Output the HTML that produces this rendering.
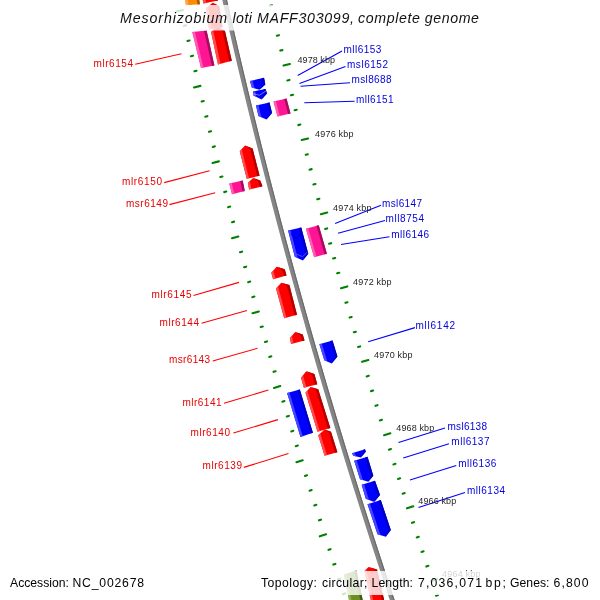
<!DOCTYPE html><html><head><meta charset="utf-8"><style>html,body{margin:0;padding:0;background:#fff;width:600px;height:600px;overflow:hidden}svg{display:block;will-change:transform}text{font-family:"Liberation Sans",sans-serif}</style></head><body>
<svg width="600" height="600" viewBox="0 0 600 600">
<rect width="600" height="600" fill="#fff"/>
<line x1="176.52" y1="11.53" x2="182.96" y2="10.08" stroke="#008000" stroke-width="2.1" stroke-linecap="round"/>
<line x1="183.94" y1="25.82" x2="186.08" y2="25.33" stroke="#008000" stroke-width="2.1" stroke-linecap="round"/>
<line x1="187.39" y1="41.00" x2="189.53" y2="40.50" stroke="#008000" stroke-width="2.1" stroke-linecap="round"/>
<line x1="190.88" y1="56.16" x2="193.03" y2="55.66" stroke="#008000" stroke-width="2.1" stroke-linecap="round"/>
<line x1="194.42" y1="71.32" x2="196.56" y2="70.81" stroke="#008000" stroke-width="2.1" stroke-linecap="round"/>
<line x1="194.01" y1="87.41" x2="200.43" y2="85.88" stroke="#008000" stroke-width="2.1" stroke-linecap="round"/>
<line x1="201.61" y1="101.59" x2="203.75" y2="101.07" stroke="#008000" stroke-width="2.1" stroke-linecap="round"/>
<line x1="205.27" y1="116.71" x2="207.41" y2="116.18" stroke="#008000" stroke-width="2.1" stroke-linecap="round"/>
<line x1="208.97" y1="131.81" x2="211.10" y2="131.28" stroke="#008000" stroke-width="2.1" stroke-linecap="round"/>
<line x1="212.70" y1="146.91" x2="214.84" y2="146.37" stroke="#008000" stroke-width="2.1" stroke-linecap="round"/>
<line x1="212.51" y1="162.99" x2="218.91" y2="161.37" stroke="#008000" stroke-width="2.1" stroke-linecap="round"/>
<line x1="220.30" y1="177.06" x2="222.43" y2="176.51" stroke="#008000" stroke-width="2.1" stroke-linecap="round"/>
<line x1="224.16" y1="192.11" x2="226.29" y2="191.56" stroke="#008000" stroke-width="2.1" stroke-linecap="round"/>
<line x1="228.06" y1="207.16" x2="230.19" y2="206.60" stroke="#008000" stroke-width="2.1" stroke-linecap="round"/>
<line x1="232.00" y1="222.19" x2="234.12" y2="221.63" stroke="#008000" stroke-width="2.1" stroke-linecap="round"/>
<line x1="232.01" y1="238.27" x2="238.39" y2="236.56" stroke="#008000" stroke-width="2.1" stroke-linecap="round"/>
<line x1="239.99" y1="252.22" x2="242.11" y2="251.64" stroke="#008000" stroke-width="2.1" stroke-linecap="round"/>
<line x1="244.05" y1="267.22" x2="246.17" y2="266.64" stroke="#008000" stroke-width="2.1" stroke-linecap="round"/>
<line x1="248.14" y1="282.20" x2="250.26" y2="281.61" stroke="#008000" stroke-width="2.1" stroke-linecap="round"/>
<line x1="252.28" y1="297.17" x2="254.40" y2="296.58" stroke="#008000" stroke-width="2.1" stroke-linecap="round"/>
<line x1="252.51" y1="313.25" x2="258.86" y2="311.45" stroke="#008000" stroke-width="2.1" stroke-linecap="round"/>
<line x1="260.67" y1="327.08" x2="262.78" y2="326.48" stroke="#008000" stroke-width="2.1" stroke-linecap="round"/>
<line x1="264.92" y1="342.02" x2="267.03" y2="341.41" stroke="#008000" stroke-width="2.1" stroke-linecap="round"/>
<line x1="269.21" y1="356.94" x2="271.33" y2="356.33" stroke="#008000" stroke-width="2.1" stroke-linecap="round"/>
<line x1="273.54" y1="371.85" x2="275.65" y2="371.23" stroke="#008000" stroke-width="2.1" stroke-linecap="round"/>
<line x1="273.98" y1="387.92" x2="280.31" y2="386.04" stroke="#008000" stroke-width="2.1" stroke-linecap="round"/>
<line x1="282.32" y1="401.64" x2="284.43" y2="401.01" stroke="#008000" stroke-width="2.1" stroke-linecap="round"/>
<line x1="286.77" y1="416.52" x2="288.87" y2="415.88" stroke="#008000" stroke-width="2.1" stroke-linecap="round"/>
<line x1="291.25" y1="431.38" x2="293.35" y2="430.74" stroke="#008000" stroke-width="2.1" stroke-linecap="round"/>
<line x1="295.77" y1="446.23" x2="297.88" y2="445.59" stroke="#008000" stroke-width="2.1" stroke-linecap="round"/>
<line x1="296.42" y1="462.29" x2="302.72" y2="460.33" stroke="#008000" stroke-width="2.1" stroke-linecap="round"/>
<line x1="304.93" y1="475.90" x2="307.03" y2="475.24" stroke="#008000" stroke-width="2.1" stroke-linecap="round"/>
<line x1="309.57" y1="490.71" x2="311.67" y2="490.05" stroke="#008000" stroke-width="2.1" stroke-linecap="round"/>
<line x1="314.25" y1="505.52" x2="316.34" y2="504.85" stroke="#008000" stroke-width="2.1" stroke-linecap="round"/>
<line x1="318.96" y1="520.31" x2="321.05" y2="519.64" stroke="#008000" stroke-width="2.1" stroke-linecap="round"/>
<line x1="319.81" y1="536.35" x2="326.09" y2="534.32" stroke="#008000" stroke-width="2.1" stroke-linecap="round"/>
<line x1="328.50" y1="549.85" x2="330.59" y2="549.17" stroke="#008000" stroke-width="2.1" stroke-linecap="round"/>
<line x1="333.32" y1="564.61" x2="335.41" y2="563.92" stroke="#008000" stroke-width="2.1" stroke-linecap="round"/>
<line x1="338.18" y1="579.35" x2="340.27" y2="578.66" stroke="#008000" stroke-width="2.1" stroke-linecap="round"/>
<line x1="343.08" y1="594.08" x2="345.17" y2="593.38" stroke="#008000" stroke-width="2.1" stroke-linecap="round"/>
<line x1="344.14" y1="610.11" x2="350.39" y2="608.00" stroke="#008000" stroke-width="2.1" stroke-linecap="round"/>
<line x1="269.94" y1="5.78" x2="272.09" y2="5.29" stroke="#008000" stroke-width="2.1" stroke-linecap="round"/>
<line x1="273.34" y1="20.73" x2="275.49" y2="20.24" stroke="#008000" stroke-width="2.1" stroke-linecap="round"/>
<line x1="276.78" y1="35.67" x2="278.93" y2="35.18" stroke="#008000" stroke-width="2.1" stroke-linecap="round"/>
<line x1="280.26" y1="50.60" x2="282.41" y2="50.11" stroke="#008000" stroke-width="2.1" stroke-linecap="round"/>
<line x1="283.49" y1="65.59" x2="289.92" y2="64.08" stroke="#008000" stroke-width="2.1" stroke-linecap="round"/>
<line x1="287.34" y1="80.44" x2="289.48" y2="79.93" stroke="#008000" stroke-width="2.1" stroke-linecap="round"/>
<line x1="290.94" y1="95.34" x2="293.08" y2="94.82" stroke="#008000" stroke-width="2.1" stroke-linecap="round"/>
<line x1="294.58" y1="110.23" x2="296.72" y2="109.71" stroke="#008000" stroke-width="2.1" stroke-linecap="round"/>
<line x1="298.26" y1="125.11" x2="300.39" y2="124.58" stroke="#008000" stroke-width="2.1" stroke-linecap="round"/>
<line x1="301.68" y1="140.05" x2="308.09" y2="138.45" stroke="#008000" stroke-width="2.1" stroke-linecap="round"/>
<line x1="305.73" y1="154.83" x2="307.86" y2="154.30" stroke="#008000" stroke-width="2.1" stroke-linecap="round"/>
<line x1="309.52" y1="169.68" x2="311.66" y2="169.14" stroke="#008000" stroke-width="2.1" stroke-linecap="round"/>
<line x1="313.36" y1="184.52" x2="315.49" y2="183.97" stroke="#008000" stroke-width="2.1" stroke-linecap="round"/>
<line x1="317.23" y1="199.34" x2="319.36" y2="198.79" stroke="#008000" stroke-width="2.1" stroke-linecap="round"/>
<line x1="320.85" y1="214.24" x2="327.23" y2="212.55" stroke="#008000" stroke-width="2.1" stroke-linecap="round"/>
<line x1="325.09" y1="228.96" x2="327.21" y2="228.40" stroke="#008000" stroke-width="2.1" stroke-linecap="round"/>
<line x1="329.07" y1="243.76" x2="331.20" y2="243.19" stroke="#008000" stroke-width="2.1" stroke-linecap="round"/>
<line x1="333.10" y1="258.54" x2="335.22" y2="257.97" stroke="#008000" stroke-width="2.1" stroke-linecap="round"/>
<line x1="337.16" y1="273.32" x2="339.28" y2="272.73" stroke="#008000" stroke-width="2.1" stroke-linecap="round"/>
<line x1="340.97" y1="288.16" x2="347.33" y2="286.39" stroke="#008000" stroke-width="2.1" stroke-linecap="round"/>
<line x1="345.40" y1="302.83" x2="347.52" y2="302.24" stroke="#008000" stroke-width="2.1" stroke-linecap="round"/>
<line x1="349.58" y1="317.57" x2="351.69" y2="316.97" stroke="#008000" stroke-width="2.1" stroke-linecap="round"/>
<line x1="353.79" y1="332.30" x2="355.91" y2="331.70" stroke="#008000" stroke-width="2.1" stroke-linecap="round"/>
<line x1="358.05" y1="347.02" x2="360.16" y2="346.41" stroke="#008000" stroke-width="2.1" stroke-linecap="round"/>
<line x1="362.05" y1="361.82" x2="368.38" y2="359.97" stroke="#008000" stroke-width="2.1" stroke-linecap="round"/>
<line x1="366.66" y1="376.43" x2="368.77" y2="375.81" stroke="#008000" stroke-width="2.1" stroke-linecap="round"/>
<line x1="371.03" y1="391.12" x2="373.14" y2="390.49" stroke="#008000" stroke-width="2.1" stroke-linecap="round"/>
<line x1="375.43" y1="405.80" x2="377.54" y2="405.17" stroke="#008000" stroke-width="2.1" stroke-linecap="round"/>
<line x1="379.87" y1="420.47" x2="381.98" y2="419.83" stroke="#008000" stroke-width="2.1" stroke-linecap="round"/>
<line x1="384.06" y1="435.21" x2="390.37" y2="433.28" stroke="#008000" stroke-width="2.1" stroke-linecap="round"/>
<line x1="388.86" y1="449.77" x2="390.97" y2="449.12" stroke="#008000" stroke-width="2.1" stroke-linecap="round"/>
<line x1="393.41" y1="464.40" x2="395.51" y2="463.75" stroke="#008000" stroke-width="2.1" stroke-linecap="round"/>
<line x1="398.00" y1="479.03" x2="400.10" y2="478.37" stroke="#008000" stroke-width="2.1" stroke-linecap="round"/>
<line x1="402.63" y1="493.64" x2="404.72" y2="492.98" stroke="#008000" stroke-width="2.1" stroke-linecap="round"/>
<line x1="407.00" y1="508.34" x2="413.29" y2="506.33" stroke="#008000" stroke-width="2.1" stroke-linecap="round"/>
<line x1="411.99" y1="522.84" x2="414.08" y2="522.17" stroke="#008000" stroke-width="2.1" stroke-linecap="round"/>
<line x1="416.72" y1="537.42" x2="418.82" y2="536.74" stroke="#008000" stroke-width="2.1" stroke-linecap="round"/>
<line x1="421.49" y1="551.99" x2="423.59" y2="551.31" stroke="#008000" stroke-width="2.1" stroke-linecap="round"/>
<line x1="426.30" y1="566.55" x2="428.39" y2="565.87" stroke="#008000" stroke-width="2.1" stroke-linecap="round"/>
<line x1="430.86" y1="581.20" x2="437.12" y2="579.12" stroke="#008000" stroke-width="2.1" stroke-linecap="round"/>
<line x1="436.03" y1="595.65" x2="438.11" y2="594.95" stroke="#008000" stroke-width="2.1" stroke-linecap="round"/>
<line x1="440.94" y1="610.18" x2="443.03" y2="609.47" stroke="#008000" stroke-width="2.1" stroke-linecap="round"/>
<polyline points="222.47,-10 224.70,0 226.95,10 229.22,20 231.51,30 233.82,40 236.14,50 238.49,60 240.85,70 243.23,80 245.63,90 248.05,100 250.48,110 252.94,120 255.41,130 257.90,140 260.41,150 262.94,160 265.48,170 268.04,180 270.63,190 273.23,200 275.85,210 278.48,220 281.14,230 283.81,240 286.50,250 289.21,260 291.94,270 294.69,280 297.45,290 300.24,300 303.04,310 305.86,320 308.70,330 311.55,340 314.43,350 317.32,360 320.23,370 323.16,380 326.11,390 329.08,400 332.06,410 335.07,420 338.09,430 341.13,440 344.19,450 347.26,460 350.36,470 353.47,480 356.60,490 359.75,500 362.92,510 366.11,520 369.31,530 372.53,540 375.78,550 379.04,560 382.31,570 385.61,580 388.92,590 392.26,600 395.61,610" fill="none" stroke="#858585" stroke-width="4.6"/>
<polyline points="224.22,-10 226.45,0 228.70,10 230.97,20 233.26,30 235.57,40 237.89,50 240.24,60 242.60,70 244.98,80 247.38,90 249.80,100 252.23,110 254.69,120 257.16,130 259.65,140 262.16,150 264.69,160 267.23,170 269.79,180 272.38,190 274.98,200 277.60,210 280.23,220 282.89,230 285.56,240 288.25,250 290.96,260 293.69,270 296.44,280 299.20,290 301.99,300 304.79,310 307.61,320 310.45,330 313.30,340 316.18,350 319.07,360 321.98,370 324.91,380 327.86,390 330.83,400 333.81,410 336.82,420 339.84,430 342.88,440 345.94,450 349.01,460 352.11,470 355.22,480 358.35,490 361.50,500 364.67,510 367.86,520 371.06,530 374.28,540 377.53,550 380.79,560 384.06,570 387.36,580 390.67,590 394.01,600 397.36,610" fill="none" stroke="#6a6a6a" stroke-width="1.1"/>
<polygon points="181.50,-20.00 195.50,-23.00 200.00,4.30 186.00,5.30" fill="#ff8c00"/>
<polygon points="181.50,-20.00 184.02,-20.54 188.52,5.12 186.00,5.30" fill="#ffa94d"/>
<polygon points="192.98,-22.46 195.50,-23.00 200.00,4.30 197.48,4.48" fill="#a65b00"/>
<polygon points="198.50,-20.00 213.50,-23.00 218.00,0.50 203.50,3.60" fill="#ff0000"/>
<polygon points="198.50,-20.00 201.20,-20.54 206.11,3.04 203.50,3.60" fill="#ff4d4d"/>
<polygon points="210.80,-22.46 213.50,-23.00 218.00,0.50 215.39,1.06" fill="#b30000"/>
<polygon points="206.00,8.50 212.50,2.80 219.20,6.00 222.50,27.20 209.00,29.50" fill="#ff0000"/>
<polygon points="206.00,8.50 208.57,6.24 208.38,8.05 211.43,29.09 209.00,29.50" fill="#ff4d4d"/>
<polygon points="216.82,6.45 219.20,6.00 222.50,27.20 220.07,27.61" fill="#b30000"/>
<polygon points="212.50,2.80 219.20,6.00 216.82,6.45" fill="#b30000"/>
<polygon points="211.10,31.90 216.50,26.50 224.90,30.80 231.80,60.80 218.00,64.40" fill="#ff0000"/>
<polygon points="211.10,31.90 213.24,29.76 213.58,31.70 220.48,63.75 218.00,64.40" fill="#ff4d4d"/>
<polygon points="222.42,31.00 224.90,30.80 231.80,60.80 229.32,61.45" fill="#b30000"/>
<polygon points="216.50,26.50 224.90,30.80 222.42,31.00" fill="#b30000"/>
<polygon points="192.30,31.90 206.60,30.50 214.40,65.40 201.00,68.10" fill="#ff1493"/>
<polygon points="192.30,31.90 194.87,31.65 203.41,67.61 201.00,68.10" fill="#ff5cb4"/>
<polygon points="204.03,30.75 206.60,30.50 214.40,65.40 211.99,65.89" fill="#a30d5e"/>
<polygon points="250.00,81.00 264.00,77.80 265.30,84.50 259.50,89.80 251.80,87.50" fill="#0000ff"/>
<polygon points="250.00,81.00 252.52,80.42 254.23,86.96 254.85,88.41 251.80,87.50" fill="#4848ff"/>
<polygon points="261.48,78.38 264.00,77.80 265.30,84.50 262.87,85.04" fill="#0000c4"/>
<polygon points="262.87,85.04 265.30,84.50 259.50,89.80" fill="#0000c4"/>
<polygon points="253.00,91.50 265.50,89.00 267.00,93.50 261.50,99.50 253.50,95.50" fill="#0000ff"/>
<polygon points="253.00,91.50 255.25,91.05 255.93,95.14 256.67,97.08 253.50,95.50" fill="#4848ff"/>
<polygon points="263.25,89.45 265.50,89.00 267.00,93.50 264.57,93.86" fill="#0000c4"/>
<polygon points="264.57,93.86 267.00,93.50 261.50,99.50" fill="#0000c4"/>
<polyline points="253.2,93.8 259.5,95.2 266.2,90.8" fill="none" stroke="#fff" stroke-opacity="0.55" stroke-width="0.8"/>
<polygon points="256.00,105.50 269.50,102.50 272.00,113.00 266.50,119.50 258.50,116.00" fill="#0000ff"/>
<polygon points="256.00,105.50 258.43,104.96 260.93,115.46 261.67,117.39 258.50,116.00" fill="#4848ff"/>
<polygon points="267.07,103.04 269.50,102.50 272.00,113.00 269.57,113.54" fill="#0000c4"/>
<polygon points="269.57,113.54 272.00,113.00 266.50,119.50" fill="#0000c4"/>
<polygon points="273.50,101.50 286.50,98.50 290.50,113.50 277.50,116.50" fill="#ff1493"/>
<polygon points="273.50,101.50 275.84,100.96 279.84,115.96 277.50,116.50" fill="#ff5cb4"/>
<polygon points="284.16,99.04 286.50,98.50 290.50,113.50 288.16,114.04" fill="#a30d5e"/>
<polygon points="239.75,151.30 245.00,145.50 252.60,148.40 259.60,175.80 246.75,178.75" fill="#ff0000"/>
<polygon points="239.75,151.30 241.83,149.00 242.06,150.78 249.06,178.22 246.75,178.75" fill="#ff4d4d"/>
<polygon points="250.29,148.92 252.60,148.40 259.60,175.80 257.29,176.33" fill="#b30000"/>
<polygon points="245.00,145.50 252.60,148.40 250.29,148.92" fill="#b30000"/>
<polygon points="247.90,182.80 253.20,178.00 260.20,180.50 262.50,186.30 249.10,189.60" fill="#ff0000"/>
<polygon points="247.90,182.80 250.00,180.90 250.11,182.39 251.51,189.01 249.10,189.60" fill="#ff4d4d"/>
<polygon points="257.99,180.91 260.20,180.50 262.50,186.30 260.09,186.89" fill="#b30000"/>
<polygon points="253.20,178.00 260.20,180.50 257.99,180.91" fill="#b30000"/>
<polygon points="229.25,183.40 242.70,180.50 244.80,191.00 232.00,194.30" fill="#ff1493"/>
<polygon points="229.25,183.40 231.67,182.88 234.30,193.71 232.00,194.30" fill="#ff5cb4"/>
<polygon points="240.28,181.02 242.70,180.50 244.80,191.00 242.50,191.59" fill="#a30d5e"/>
<polygon points="288.10,230.40 301.25,227.50 308.25,253.75 302.80,260.40 294.80,256.70" fill="#0000ff"/>
<polygon points="288.10,230.40 290.47,229.88 297.22,256.17 297.97,258.17 294.80,256.70" fill="#4848ff"/>
<polygon points="298.88,228.02 301.25,227.50 308.25,253.75 305.83,254.28" fill="#0000c4"/>
<polygon points="305.83,254.28 308.25,253.75 302.80,260.40" fill="#0000c4"/>
<polyline points="290.5,234 296.5,238.4 300.4,234.2 301.6,228.6" fill="none" stroke="#0000b8" stroke-width="0.9"/>
<polyline points="295.5,253.8 302.5,256.6 307.4,252.1" fill="none" stroke="#6060ff" stroke-width="0.8"/>
<polygon points="305.90,228.70 318.75,225.20 326.90,253.75 314.10,257.25" fill="#ff1493"/>
<polygon points="305.90,228.70 308.21,228.07 316.40,256.62 314.10,257.25" fill="#ff5cb4"/>
<polygon points="316.44,225.83 318.75,225.20 326.90,253.75 324.60,254.38" fill="#a30d5e"/>
<polygon points="271.30,272.80 276.60,266.80 284.75,269.30 286.50,275.40 273.10,279.25" fill="#ff0000"/>
<polygon points="271.30,272.80 273.40,270.42 273.72,272.17 275.51,278.56 273.10,279.25" fill="#ff4d4d"/>
<polygon points="282.33,269.93 284.75,269.30 286.50,275.40 284.09,276.09" fill="#b30000"/>
<polygon points="276.60,266.80 284.75,269.30 282.33,269.93" fill="#b30000"/>
<polygon points="276.00,288.60 281.25,282.75 289.40,285.10 297.00,314.80 284.20,318.30" fill="#ff0000"/>
<polygon points="276.00,288.60 278.08,286.28 278.41,287.97 286.50,317.67 284.20,318.30" fill="#ff4d4d"/>
<polygon points="286.99,285.73 289.40,285.10 297.00,314.80 294.70,315.43" fill="#b30000"/>
<polygon points="281.25,282.75 289.40,285.10 286.99,285.73" fill="#b30000"/>
<polygon points="289.90,338.10 295.20,331.90 302.75,334.60 304.50,340.40 291.10,343.90" fill="#ff0000"/>
<polygon points="289.90,338.10 292.00,335.64 292.21,337.47 293.51,343.27 291.10,343.90" fill="#ff4d4d"/>
<polygon points="300.44,335.23 302.75,334.60 304.50,340.40 302.09,341.03" fill="#b30000"/>
<polygon points="295.20,331.90 302.75,334.60 300.44,335.23" fill="#b30000"/>
<polygon points="319.40,344.15 332.50,340.40 337.40,356.40 331.70,363.40 324.30,360.25" fill="#0000ff"/>
<polygon points="319.40,344.15 321.76,343.47 326.66,359.56 327.23,361.50 324.30,360.25" fill="#4848ff"/>
<polygon points="330.14,341.07 332.50,340.40 337.40,356.40 335.04,357.09" fill="#0000c4"/>
<polygon points="335.04,357.09 337.40,356.40 331.70,363.40" fill="#0000c4"/>
<polygon points="301.00,377.75 306.25,371.30 314.40,373.90 317.30,384.20 303.90,387.70" fill="#ff0000"/>
<polygon points="301.00,377.75 303.08,375.20 303.41,377.06 306.31,387.07 303.90,387.70" fill="#ff4d4d"/>
<polygon points="311.99,374.59 314.40,373.90 317.30,384.20 314.89,384.83" fill="#b30000"/>
<polygon points="306.25,371.30 314.40,373.90 311.99,374.59" fill="#b30000"/>
<polygon points="287.10,393.10 299.80,389.40 312.90,432.80 300.50,437.00" fill="#0000ff"/>
<polygon points="287.10,393.10 289.39,392.43 302.73,436.24 300.50,437.00" fill="#4848ff"/>
<polygon points="297.51,390.07 299.80,389.40 312.90,432.80 310.67,433.56" fill="#0000c4"/>
<polygon points="305.50,392.70 310.50,387.00 318.20,389.20 330.30,428.10 317.50,431.70" fill="#ff0000"/>
<polygon points="305.50,392.70 307.48,390.44 307.79,392.07 319.80,431.05 317.50,431.70" fill="#ff4d4d"/>
<polygon points="315.91,389.83 318.20,389.20 330.30,428.10 328.00,428.75" fill="#b30000"/>
<polygon points="310.50,387.00 318.20,389.20 315.91,389.83" fill="#b30000"/>
<polygon points="318.20,435.20 324.60,429.50 331.00,431.70 337.40,452.20 324.60,455.70" fill="#ff0000"/>
<polygon points="318.20,435.20 320.73,432.94 320.50,434.57 326.90,455.07 324.60,455.70" fill="#ff4d4d"/>
<polygon points="328.70,432.33 331.00,431.70 337.40,452.20 335.10,452.83" fill="#b30000"/>
<polygon points="324.60,429.50 331.00,431.70 328.70,432.33" fill="#b30000"/>
<polygon points="352.00,453.30 365.00,449.20 365.80,451.70 360.80,457.50 353.30,455.80" fill="#0000ff"/>
<polygon points="352.00,453.30 354.34,452.56 355.55,455.06 356.27,456.47 353.30,455.80" fill="#4848ff"/>
<polygon points="362.66,449.94 365.00,449.20 365.80,451.70 363.55,452.44" fill="#0000c4"/>
<polygon points="363.55,452.44 365.80,451.70 360.80,457.50" fill="#0000c4"/>
<polygon points="354.20,460.80 367.50,456.70 373.30,475.80 368.30,481.70 360.00,479.20" fill="#0000ff"/>
<polygon points="354.20,460.80 356.59,460.06 362.39,478.59 363.29,480.19 360.00,479.20" fill="#4848ff"/>
<polygon points="365.11,457.44 367.50,456.70 373.30,475.80 370.91,476.41" fill="#0000c4"/>
<polygon points="370.91,476.41 373.30,475.80 368.30,481.70" fill="#0000c4"/>
<polygon points="361.70,484.70 375.00,480.80 380.00,495.00 374.20,502.00 365.80,498.70" fill="#0000ff"/>
<polygon points="361.70,484.70 364.09,484.00 368.36,498.03 369.13,500.01 365.80,498.70" fill="#4848ff"/>
<polygon points="372.61,481.50 375.00,480.80 380.00,495.00 377.44,495.67" fill="#0000c4"/>
<polygon points="377.44,495.67 380.00,495.00 374.20,502.00" fill="#0000c4"/>
<polygon points="367.50,504.20 380.80,500.00 390.80,530.00 385.80,536.70 377.50,534.20" fill="#0000ff"/>
<polygon points="367.50,504.20 369.89,503.44 379.89,533.44 380.79,535.19 377.50,534.20" fill="#4848ff"/>
<polygon points="378.41,500.76 380.80,500.00 390.80,530.00 388.41,530.76" fill="#0000c4"/>
<polygon points="388.41,530.76 390.80,530.00 385.80,536.70" fill="#0000c4"/>
<polygon points="343.80,574.50 356.50,570.50 368.00,625.00 355.00,629.00" fill="#6b8e23"/>
<polygon points="343.80,574.50 346.09,573.78 357.34,628.28 355.00,629.00" fill="#8fb04a"/>
<polygon points="354.21,571.22 356.50,570.50 368.00,625.00 365.66,625.72" fill="#465d17"/>
<polygon points="364.50,571.00 368.50,567.00 377.00,569.50 390.00,625.00 377.00,629.00" fill="#ff0000"/>
<polygon points="364.50,571.00 366.08,569.42 366.75,570.73 379.34,628.28 377.00,629.00" fill="#ff4d4d"/>
<polygon points="374.75,569.77 377.00,569.50 390.00,625.00 387.66,625.72" fill="#b30000"/>
<polygon points="368.50,567.00 377.00,569.50 374.75,569.77" fill="#b30000"/>
<line x1="135.2" y1="64.2" x2="181.5" y2="53.8" stroke="#ff0000" stroke-width="1.1"/>
<line x1="164.2" y1="182.6" x2="209.6" y2="170.8" stroke="#ff0000" stroke-width="1.1"/>
<line x1="169.4" y1="204.6" x2="215.2" y2="192.8" stroke="#ff0000" stroke-width="1.1"/>
<line x1="193.5" y1="295.5" x2="239" y2="282.4" stroke="#ff0000" stroke-width="1.1"/>
<line x1="201.5" y1="323.2" x2="247" y2="310.5" stroke="#ff0000" stroke-width="1.1"/>
<line x1="212.7" y1="361" x2="257.5" y2="348.3" stroke="#ff0000" stroke-width="1.1"/>
<line x1="224" y1="403.3" x2="268.4" y2="390" stroke="#ff0000" stroke-width="1.1"/>
<line x1="233.4" y1="433" x2="278" y2="419.6" stroke="#ff0000" stroke-width="1.1"/>
<line x1="243.8" y1="467.4" x2="288.5" y2="453.5" stroke="#ff0000" stroke-width="1.1"/>
<line x1="297.7" y1="75.5" x2="342" y2="51" stroke="#0000ff" stroke-width="1.1"/>
<line x1="299.5" y1="83.5" x2="345.5" y2="66.5" stroke="#0000ff" stroke-width="1.1"/>
<line x1="300.5" y1="86.3" x2="350" y2="82.8" stroke="#0000ff" stroke-width="1.1"/>
<line x1="304.3" y1="102.8" x2="354.6" y2="101.3" stroke="#0000ff" stroke-width="1.1"/>
<line x1="335.1" y1="223.4" x2="381" y2="205.2" stroke="#0000ff" stroke-width="1.1"/>
<line x1="338" y1="233.2" x2="385" y2="220.5" stroke="#0000ff" stroke-width="1.1"/>
<line x1="341" y1="244.5" x2="389.5" y2="236.7" stroke="#0000ff" stroke-width="1.1"/>
<line x1="368.2" y1="341.7" x2="415" y2="327.6" stroke="#0000ff" stroke-width="1.1"/>
<line x1="398.5" y1="442.5" x2="445" y2="428" stroke="#0000ff" stroke-width="1.1"/>
<line x1="403.25" y1="458" x2="449" y2="443.75" stroke="#0000ff" stroke-width="1.1"/>
<line x1="410" y1="480" x2="456.25" y2="465.5" stroke="#0000ff" stroke-width="1.1"/>
<line x1="418.5" y1="507.5" x2="465" y2="492.5" stroke="#0000ff" stroke-width="1.1"/>
<text x="93.50" y="66.8" font-size="10" fill="#e60000" textLength="39.50" lengthAdjust="spacing">mlr6154</text>
<text x="122.00" y="185" font-size="10" fill="#e60000" textLength="40.00" lengthAdjust="spacing">mlr6150</text>
<text x="126.00" y="206.6" font-size="10" fill="#e60000" textLength="42.00" lengthAdjust="spacing">msr6149</text>
<text x="151.50" y="297.5" font-size="10" fill="#e60000" textLength="40.00" lengthAdjust="spacing">mlr6145</text>
<text x="159.50" y="325.5" font-size="10" fill="#e60000" textLength="39.50" lengthAdjust="spacing">mlr6144</text>
<text x="169.00" y="363.3" font-size="10" fill="#e60000" textLength="41.00" lengthAdjust="spacing">msr6143</text>
<text x="182.50" y="405.7" font-size="10" fill="#e60000" textLength="39.00" lengthAdjust="spacing">mlr6141</text>
<text x="190.50" y="435.5" font-size="10" fill="#e60000" textLength="39.50" lengthAdjust="spacing">mlr6140</text>
<text x="202.50" y="469.4" font-size="10" fill="#e60000" textLength="39.50" lengthAdjust="spacing">mlr6139</text>
<text x="343.50" y="52.6" font-size="10" fill="#0000dc" textLength="37.75" lengthAdjust="spacing">mll6153</text>
<text x="347.00" y="67.6" font-size="10" fill="#0000dc" textLength="41.00" lengthAdjust="spacing">msl6152</text>
<text x="351.50" y="83.2" font-size="10" fill="#0000dc" textLength="40.00" lengthAdjust="spacing">msl8688</text>
<text x="356.00" y="102.5" font-size="10" fill="#0000dc" textLength="37.50" lengthAdjust="spacing">mll6151</text>
<text x="382.00" y="206.7" font-size="10" fill="#0000dc" textLength="40.00" lengthAdjust="spacing">msl6147</text>
<text x="385.50" y="221.8" font-size="10" fill="#0000dc" textLength="38.50" lengthAdjust="spacing">mll8754</text>
<text x="391.25" y="238.1" font-size="10" fill="#0000dc" textLength="37.75" lengthAdjust="spacing">mll6146</text>
<text x="415.50" y="328.9" font-size="10" fill="#0000dc" textLength="39.50" lengthAdjust="spacing">mll6142</text>
<text x="447.50" y="430" font-size="10" fill="#0000dc" textLength="39.50" lengthAdjust="spacing">msl6138</text>
<text x="451.25" y="445" font-size="10" fill="#0000dc" textLength="38.25" lengthAdjust="spacing">mll6137</text>
<text x="458.25" y="467" font-size="10" fill="#0000dc" textLength="38.00" lengthAdjust="spacing">mll6136</text>
<text x="467.00" y="493.75" font-size="10" fill="#0000dc" textLength="38.00" lengthAdjust="spacing">mll6134</text>
<text x="297.50" y="63" font-size="9" fill="#1e1e1e" textLength="37.50" lengthAdjust="spacing">4978 kbp</text>
<text x="315.00" y="136.9" font-size="9" fill="#1e1e1e" textLength="38.50" lengthAdjust="spacing">4976 kbp</text>
<text x="333.00" y="211" font-size="9" fill="#1e1e1e" textLength="38.50" lengthAdjust="spacing">4974 kbp</text>
<text x="353.00" y="284.9" font-size="9" fill="#1e1e1e" textLength="38.50" lengthAdjust="spacing">4972 kbp</text>
<text x="374.00" y="358" font-size="9" fill="#1e1e1e" textLength="38.50" lengthAdjust="spacing">4970 kbp</text>
<text x="396.25" y="431.25" font-size="9" fill="#1e1e1e" textLength="38.00" lengthAdjust="spacing">4968 kbp</text>
<text x="418.25" y="503.75" font-size="9" fill="#1e1e1e" textLength="38.00" lengthAdjust="spacing">4966 kbp</text>
<text x="442.00" y="576.7" font-size="9" fill="#1e1e1e" textLength="38.50" lengthAdjust="spacing">4964 kbp</text>
<rect x="0" y="5" width="600" height="25.5" fill="#fff" fill-opacity="0.8"/>
<rect x="0" y="571" width="600" height="24" fill="#fff" fill-opacity="0.8"/>
<text x="120.00" y="22.9" font-size="14.2" fill="#111111" textLength="107.00" lengthAdjust="spacing" font-style="italic">Mesorhizobium</text>
<text x="232.50" y="22.9" font-size="14.2" fill="#111111" textLength="19.50" lengthAdjust="spacing" font-style="italic">loti</text>
<text x="257.00" y="22.9" font-size="14.2" fill="#111111" textLength="97.00" lengthAdjust="spacing" font-style="italic">MAFF303099,</text>
<text x="358.00" y="22.9" font-size="14.2" fill="#111111" textLength="62.00" lengthAdjust="spacing" font-style="italic">complete</text>
<text x="424.80" y="22.9" font-size="14.2" fill="#111111" textLength="54.20" lengthAdjust="spacing" font-style="italic">genome</text>
<text x="10.00" y="587" font-size="12.2" fill="#000000" textLength="59.00" lengthAdjust="spacing">Accession:</text>
<text x="72.50" y="587" font-size="12.2" fill="#000000" textLength="71.50" lengthAdjust="spacing">NC_002678</text>
<text x="261.00" y="587" font-size="12.2" fill="#000000" textLength="56.00" lengthAdjust="spacing">Topology:</text>
<text x="322.00" y="587" font-size="12.2" fill="#000000" textLength="45.50" lengthAdjust="spacing">circular;</text>
<text x="371.50" y="587" font-size="12.2" fill="#000000" textLength="41.50" lengthAdjust="spacing">Length:</text>
<text x="418.00" y="587" font-size="12.2" fill="#000000" textLength="64.00" lengthAdjust="spacing">7,036,071</text>
<text x="485.50" y="587" font-size="12.2" fill="#000000" textLength="20.50" lengthAdjust="spacing">bp;</text>
<text x="510.00" y="587" font-size="12.2" fill="#000000" textLength="39.50" lengthAdjust="spacing">Genes:</text>
<text x="553.50" y="587" font-size="12.2" fill="#000000" textLength="35.00" lengthAdjust="spacing">6,800</text>
</svg></body></html>
